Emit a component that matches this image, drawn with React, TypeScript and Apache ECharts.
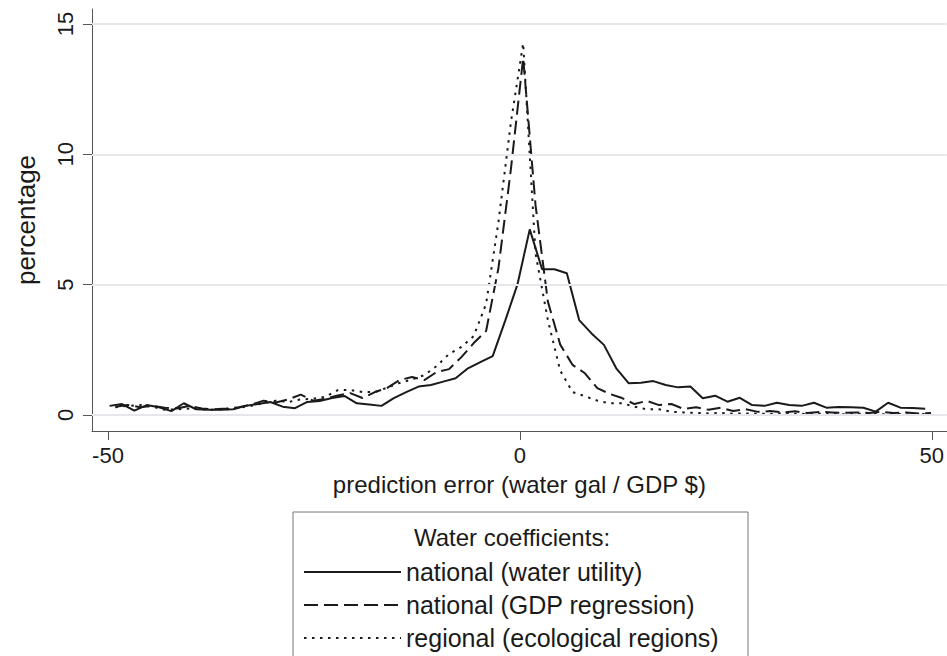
import React, { useEffect, useRef } from "react";
import * as echarts from "echarts";

// bin positions (prediction error)
const xSolid = [-49.8, -48.3, -46.8, -45.3, -43.8, -42.3, -40.8, -39.3, -37.8, -36.3, -34.8, -33.3, -31.8, -30.3, -28.8, -27.3, -25.8, -24.3, -22.8, -21.3, -19.8, -18.3, -16.8, -15.3, -13.8, -12.3, -10.8, -9.3, -7.8, -6.3, -4.8, -3.3, -1.8, -0.3, 1.2, 2.7, 4.2, 5.7, 7.2, 8.7, 10.2, 11.7, 13.2, 14.7, 16.2, 17.7, 19.2, 20.7, 22.2, 23.7, 25.2, 26.7, 28.2, 29.7, 31.2, 32.7, 34.2, 35.7, 37.2, 38.7, 40.2, 41.7, 43.2, 44.7, 46.2, 47.7, 49.2];
const xOther = [-49.1, -47.6, -46.1, -44.6, -43.1, -41.6, -40.1, -38.6, -37.1, -35.6, -34.1, -32.6, -31.1, -29.6, -28.1, -26.6, -25.1, -23.6, -22.1, -20.6, -19.1, -17.6, -16.1, -14.6, -13.1, -11.6, -10.1, -8.6, -7.1, -5.6, -4.1, -2.6, -1.1, 0.4, 1.9, 3.4, 4.9, 6.4, 7.9, 9.4, 10.9, 12.4, 13.9, 15.4, 16.9, 18.4, 19.9, 21.4, 22.9, 24.4, 25.9, 27.4, 28.9, 30.4, 31.9, 33.4, 34.9, 36.4, 37.9, 39.4, 40.9, 42.4, 43.9, 45.4, 46.9, 48.4, 49.9];

// percentages
const waterUtility = [0.35, 0.42, 0.17, 0.38, 0.30, 0.15, 0.45, 0.22, 0.20, 0.20, 0.22,
  0.35, 0.42, 0.50, 0.32, 0.26, 0.50, 0.54, 0.65, 0.73, 0.45,
  0.40, 0.35, 0.65, 0.88, 1.09, 1.15, 1.28, 1.41, 1.79, 2.03,
  2.26, 3.6, 5.0, 7.12, 5.59, 5.59, 5.44, 3.64, 3.13, 2.69,
  1.79, 1.22, 1.24, 1.30, 1.15, 1.06, 1.09, 0.64, 0.74, 0.51,
  0.66, 0.38, 0.35, 0.47, 0.38, 0.35, 0.47, 0.28, 0.31, 0.30,
  0.28, 0.13, 0.47, 0.28, 0.27, 0.24];
const gdpRegression = [0.32, 0.38, 0.30, 0.35, 0.28, 0.25, 0.35, 0.25, 0.22, 0.25, 0.30,
  0.40, 0.55, 0.48, 0.60, 0.78, 0.55, 0.62, 0.75, 0.84, 0.65,
  0.88, 1.04, 1.34, 1.46, 1.34, 1.65, 1.76, 2.22, 2.76, 3.22,
  5.64, 9.4, 13.7, 8.05, 4.35, 2.7, 1.92, 1.6, 1.03, 0.81,
  0.65, 0.42, 0.54, 0.38, 0.42, 0.23, 0.30, 0.20, 0.28, 0.15,
  0.22, 0.12, 0.15, 0.10, 0.14, 0.08, 0.12, 0.10, 0.08, 0.10,
  0.08, 0.12, 0.08, 0.10, 0.06, 0.08];
const ecoRegions = [0.30, 0.35, 0.38, 0.32, 0.20, 0.22, 0.25, 0.22, 0.20, 0.22, 0.28,
  0.35, 0.45, 0.55, 0.50, 0.60, 0.62, 0.70, 0.95, 0.96, 0.88,
  0.88, 1.05, 1.23, 1.36, 1.53, 1.88, 2.34, 2.61, 3.03, 4.26,
  7.4, 11.2, 14.26, 6.2, 3.64, 1.7, 0.88, 0.72, 0.55, 0.45,
  0.45, 0.32, 0.22, 0.22, 0.12, 0.10, 0.08, 0.06, 0.08, 0.05,
  0.06, 0.05, 0.04, 0.06, 0.05, 0.04, 0.05, 0.04, 0.03, 0.04,
  0.05, 0.03, 0.04, 0.03, 0.04, 0.03];

const xTicks = [-50, 0, 50];
const yTicks = [0, 5, 10, 15];
const seriesNames = ["national (water utility)", "national (GDP regression)", "regional (ecological regions)"];
const legendTitle = "Water coefficients:";

const FONT = "'Liberation Sans', Arial, Helvetica, sans-serif";
const INK = "#1a1a1a";
const CLEAR = "rgba(0,0,0,0)";

function pairs(xs: number[], ys: number[]) {
  return xs.map((x, i) => [x, ys[i]]);
}

export default function App() {
  const ref = useRef<HTMLDivElement>(null);
  useEffect(() => {
    if (!ref.current) return;
    const chart = echarts.init(ref.current, null, { renderer: "svg" });
    const lineBase = { type: "line", showSymbol: false, symbol: "none", z: 3 };
    chart.setOption({
      animation: false,
      backgroundColor: "#ffffff",
      textStyle: { fontFamily: FONT, color: INK },
      grid: { left: 92, right: 0, top: 9, bottom: 225 },
      xAxis: {
        type: "value",
        min: -51.94,
        max: 51.82,
        name: "prediction error (water gal / GDP $)",
        nameLocation: "middle",
        nameGap: 41,
        nameTextStyle: { fontSize: 24, color: INK, fontFamily: FONT },
        axisLine: { show: true, onZero: false, lineStyle: { color: "#555", width: 1 } },
        axisTick: { show: true, customValues: xTicks, length: 9, lineStyle: { color: "#555", width: 1 } },
        axisLabel: { customValues: xTicks, fontSize: 22, color: INK, margin: 13, fontFamily: FONT },
        splitLine: { show: false },
      },
      yAxis: {
        type: "value",
        min: -0.614,
        max: 15.575,
        name: "percentage",
        nameLocation: "middle",
        nameRotate: 90,
        nameGap: 53,
        nameTextStyle: { fontSize: 26, color: INK, fontFamily: FONT },
        axisLine: { show: true, onZero: false, lineStyle: { color: "#555", width: 1 } },
        axisTick: { show: true, customValues: yTicks, length: 9, lineStyle: { color: "#555", width: 1 } },
        axisLabel: { customValues: yTicks, rotate: 90, fontSize: 22, color: INK, margin: 16, fontFamily: FONT },
        splitLine: { show: false },
      },
      legend: {
        data: seriesNames,
        orient: "vertical",
        left: 303,
        top: 558,
        padding: 0,
        itemWidth: 97,
        itemHeight: 14,
        itemGap: 5,
        itemStyle: { color: CLEAR, borderColor: CLEAR, borderWidth: 0 },
        textStyle: { fontSize: 25, color: INK, lineHeight: 28, fontFamily: FONT },
        selectedMode: false,
      },
      graphic: [
        {
          type: "rect",
          shape: { x: 293, y: 512, width: 455, height: 200 },
          style: { fill: "none", stroke: "#777", lineWidth: 1 },
          silent: true,
        },
        {
          type: "text",
          x: 512,
          y: 537,
          style: { text: legendTitle, fontSize: 24, fill: INK, align: "center", verticalAlign: "middle", fontFamily: FONT },
          silent: true,
        },
      ],
      series: [
        {
          name: "grid",
          type: "line",
          data: [],
          z: 1,
          silent: true,
          markLine: {
            silent: true,
            symbol: "none",
            label: { show: false },
            lineStyle: { color: "#e6e6ec", width: 2, type: "solid" },
            data: yTicks.map((v) => ({ yAxis: v })),
          },
        },
        {
          ...lineBase,
          name: seriesNames[0],
          data: pairs(xSolid, waterUtility),
          lineStyle: { color: INK, width: 2, type: "solid" },
          itemStyle: { color: INK },
        },
        {
          ...lineBase,
          name: seriesNames[1],
          data: pairs(xOther, gdpRegression),
          lineStyle: { color: INK, width: 2, type: [14, 6] },
          itemStyle: { color: INK },
        },
        {
          ...lineBase,
          name: seriesNames[2],
          data: pairs(xOther, ecoRegions),
          lineStyle: { color: INK, width: 2, type: [2.5, 5.5] },
          itemStyle: { color: INK },
        },
      ],
    });
    return () => chart.dispose();
  }, []);
  return (
    <div
      ref={ref}
      style={{ position: "fixed", left: 0, top: 0, width: 947, height: 656, background: "#fff" }}
    />
  );
}
